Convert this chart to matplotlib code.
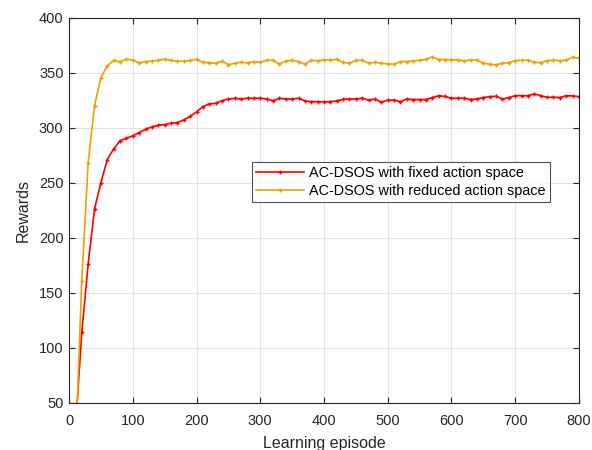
import numpy as np
import matplotlib
matplotlib.use("Agg")
import matplotlib.pyplot as plt

plt.rcParams['font.family'] = ['Liberation Sans', 'DejaVu Sans']

episodes = np.arange(10, 801, 10)

fixed_rewards = [
    25, 114, 176, 226, 250, 271, 280.6, 288, 290.3, 292.5,
    295.5, 298.5, 300.6, 302.2, 302.7, 304, 304.6, 307, 310.2, 314.3,
    319.1, 321.5, 322.1, 324.5, 326, 326.6, 326, 326.7, 326.7, 326.7,
    326, 324.3, 326.7, 326, 326, 326.7, 324.3, 323.6, 323.6, 323.3,
    323.6, 324.3, 325.8, 326, 326, 326.7, 324.9, 326, 323, 325,
    325, 323.6, 326, 325.5, 325.5, 325.5, 327.3, 329, 328.3, 326.7,
    326.7, 326.7, 325.5, 326, 327.3, 328.2, 328.5, 326, 327.3, 329,
    329, 329, 330.6, 329, 327.6, 327.6, 327.3, 329, 328.8, 328.2,
]

reduced_rewards = [
    5, 161, 268, 320, 345.5, 356, 361, 360, 362, 361.3,
    358.8, 360, 360.4, 361.3, 362.2, 361, 360.4, 360.4, 361, 362,
    359.3, 359, 358.4, 360.4, 357.2, 358.5, 359.4, 358.8, 360, 359.4,
    361.2, 361.2, 357.6, 360.6, 361.2, 360, 357.6, 361.2, 360.6, 361.5,
    361.5, 362, 359.2, 358.5, 361.2, 361.2, 358.5, 359.4, 358.5, 357.9,
    357.6, 360, 360, 360.6, 361.2, 362, 364.3, 361.8, 361.8, 361.8,
    361.5, 360.6, 361.5, 361.5, 358.5, 357.6, 357, 358.5, 359, 360.9,
    361.2, 361.2, 359.4, 359, 360.9, 361.2, 360.9, 361.2, 364, 363,
]

fig = plt.figure(figsize=(5.92, 4.5), dpi=100)
ax = fig.add_axes([0.1166, 0.105, 0.978 - 0.1166, 0.961 - 0.105])

ax.plot(episodes, fixed_rewards, color='#FF0000', lw=1.2, marker='+',
        markersize=3.5, mew=1.0, label='AC-DSOS with fixed action space')
ax.plot(episodes, reduced_rewards, color='#F0A000', lw=1.2, marker='+',
        markersize=3.5, mew=1.0, label='AC-DSOS with reduced action space')

ax.set_xlim(0, 800)
ax.set_ylim(50, 400)
ax.set_xticks(np.arange(0, 801, 100))
ax.set_yticks(np.arange(50, 401, 50))
ax.grid(True, color='#E3E3E3', lw=0.8)
ax.set_axisbelow(True)
ax.tick_params(direction='in', top=True, right=True, labelsize=10.5,
               colors='#262626', length=4)
ax.tick_params(axis='x', pad=8)
ax.tick_params(axis='y', pad=4)
for s in ax.spines.values():
    s.set_color('#262626')
    s.set_linewidth(0.8)

ax.set_xlabel('Learning episode', fontsize=11.5, color='#262626', labelpad=6)
ax.set_ylabel('Rewards', fontsize=11.5, color='#262626', labelpad=6)

leg = ax.legend(loc='upper left', bbox_to_anchor=(0.359, 0.626), fontsize=10.4,
                frameon=True, fancybox=False, edgecolor='#262626',
                borderpad=0.3, handlelength=3.3, handletextpad=0.35,
                labelspacing=0.25, borderaxespad=0)
leg.get_frame().set_linewidth(0.8)

fig.savefig('out.png', dpi=100)
